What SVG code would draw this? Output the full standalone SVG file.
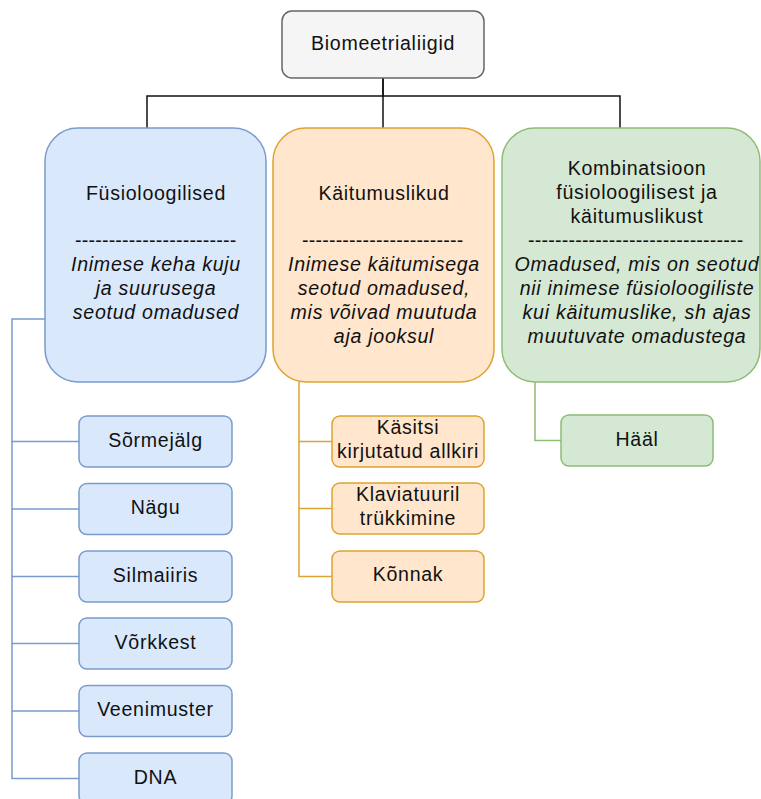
<svg xmlns="http://www.w3.org/2000/svg" width="761" height="799" viewBox="0 0 761 799">
  <style>
    .t { font-family: "Liberation Sans", Arial, sans-serif; font-size: 19.6px; letter-spacing: 0.7px; fill: #111; text-anchor: middle; }
    .i { font-style: italic; }
    .root { fill: #f5f5f5; stroke: #666666; stroke-width: 1.5; }
    .blue { fill: #dae8fc; stroke: #7a9bcc; stroke-width: 1.5; }
    .orange { fill: #ffe6cc; stroke: #dca530; stroke-width: 1.5; }
    .green { fill: #d5e8d4; stroke: #8fbc74; stroke-width: 1.5; }
    .e { fill: none; stroke-width: 1.5; }
    .eb { stroke: #111; }
    .eblue { stroke: #7a9bcc; }
    .eor { stroke: #dca530; }
    .egr { stroke: #8fbc74; }
  </style>

  <!-- connectors -->
  <g id="connectors">
    <path class="e eb" d="M383,78 V96 H147 V128"/>
    <path class="e eb" d="M383,78 V128"/>
    <path class="e eb" d="M383,96 H620 V128"/>

    <path class="e eblue" d="M45,319 H12 V441.5 H79"/>
    <path class="e eblue" d="M12,441.5 V509 H79"/>
    <path class="e eblue" d="M12,509 V576.5 H79"/>
    <path class="e eblue" d="M12,576.5 V643.5 H79"/>
    <path class="e eblue" d="M12,643.5 V711 H79"/>
    <path class="e eblue" d="M12,711 V778.5 H79"/>

    <path class="e eor" d="M299,382 V441.5 H332"/>
    <path class="e eor" d="M299,441.5 V508.5 H332"/>
    <path class="e eor" d="M299,508.5 V576.5 H332"/>

    <path class="e egr" d="M535,382 V440.5 H561"/>
  </g>

  <!-- root -->
  <g id="biomeetrialiigid">
    <rect class="root" x="282" y="11" width="202" height="67" rx="10"/>
    <text class="t" x="383" y="50">Biomeetrialiigid</text>
  </g>

  <!-- physiological -->
  <g id="fusioloogilised">
    <rect class="blue" x="45" y="128" width="221" height="254" rx="33"/>
    <text class="t" x="156" y="200">Füsioloogilised</text>
    <text class="t" x="156" y="247" textLength="162" lengthAdjust="spacing">------------------------</text>
    <text class="t i" x="156" y="271">Inimese keha kuju</text>
    <text class="t i" x="156" y="295">ja suurusega</text>
    <text class="t i" x="156" y="319">seotud omadused</text>
  </g>

  <!-- behavioural -->
  <g id="kaitumuslikud">
    <rect class="orange" x="273" y="128" width="221" height="254" rx="33"/>
    <text class="t" x="384" y="200">Käitumuslikud</text>
    <text class="t" x="383" y="247" textLength="162" lengthAdjust="spacing">------------------------</text>
    <text class="t i" x="384" y="271">Inimese käitumisega</text>
    <text class="t i" x="384" y="295">seotud omadused,</text>
    <text class="t i" x="384" y="319">mis võivad muutuda</text>
    <text class="t i" x="384" y="343">aja jooksul</text>
  </g>

  <!-- combined -->
  <g id="kombinatsioon">
    <rect class="green" x="502" y="128" width="258" height="254" rx="33"/>
    <text class="t" x="637" y="175">Kombinatsioon</text>
    <text class="t" x="637" y="199">füsioloogilisest ja</text>
    <text class="t" x="637" y="223">käitumuslikust</text>
    <text class="t" x="636" y="247" textLength="216" lengthAdjust="spacing">--------------------------------</text>
    <text class="t i" x="637" y="271">Omadused, mis on seotud</text>
    <text class="t i" x="637" y="295">nii inimese füsioloogiliste</text>
    <text class="t i" x="637" y="319">kui käitumuslike, sh ajas</text>
    <text class="t i" x="637" y="343">muutuvate omadustega</text>
  </g>

  <!-- physiological leaves -->
  <g id="sormejalg">
    <rect class="blue" x="79" y="416" width="153" height="51" rx="8"/>
    <text class="t" x="155.5" y="446.5">Sõrmejälg</text>
  </g>
  <g id="nagu">
    <rect class="blue" x="79" y="483.5" width="153" height="51" rx="8"/>
    <text class="t" x="155.5" y="514">Nägu</text>
  </g>
  <g id="silmaiiris">
    <rect class="blue" x="79" y="551" width="153" height="51" rx="8"/>
    <text class="t" x="155.5" y="581.5">Silmaiiris</text>
  </g>
  <g id="vorkkest">
    <rect class="blue" x="79" y="618" width="153" height="51" rx="8"/>
    <text class="t" x="155.5" y="648.5">Võrkkest</text>
  </g>
  <g id="veenimuster">
    <rect class="blue" x="79" y="685.5" width="153" height="51" rx="8"/>
    <text class="t" x="155.5" y="716">Veenimuster</text>
  </g>
  <g id="dna">
    <rect class="blue" x="79" y="753" width="153" height="51" rx="8"/>
    <text class="t" x="155.5" y="783.5">DNA</text>
  </g>

  <!-- behavioural leaves -->
  <g id="kasitsi-allkiri">
    <rect class="orange" x="332" y="416" width="152" height="51" rx="8"/>
    <text class="t" x="408" y="433.5">Käsitsi</text>
    <text class="t" x="408" y="458">kirjutatud allkiri</text>
  </g>
  <g id="klaviatuuril-trukkimine">
    <rect class="orange" x="332" y="483" width="152" height="51" rx="8"/>
    <text class="t" x="408" y="500.5">Klaviatuuril</text>
    <text class="t" x="408" y="525">trükkimine</text>
  </g>
  <g id="konnak">
    <rect class="orange" x="332" y="551" width="152" height="51" rx="8"/>
    <text class="t" x="408" y="581">Kõnnak</text>
  </g>

  <!-- combined leaf -->
  <g id="haal">
    <rect class="green" x="561" y="415" width="152" height="51" rx="8"/>
    <text class="t" x="637" y="445.5">Hääl</text>
  </g>
</svg>
